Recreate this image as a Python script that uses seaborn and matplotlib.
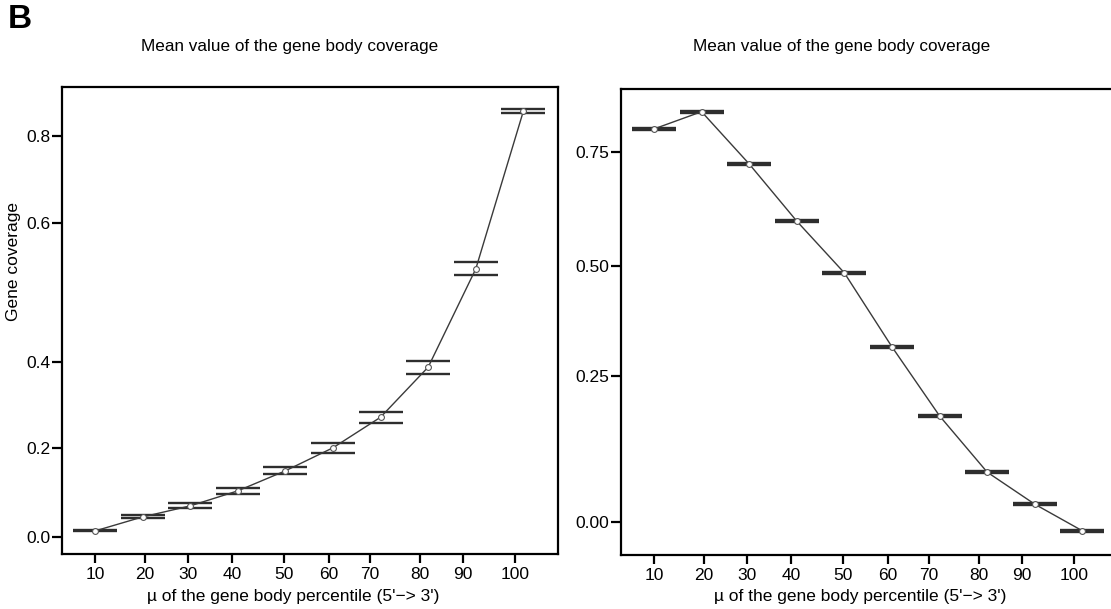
import numpy as np
import pandas as pd
import matplotlib
matplotlib.use("Agg")
import matplotlib.pyplot as plt
import seaborn as sns

# ---- data -------------------------------------------------------------
percentile = [10, 20, 30, 40, 50, 60, 70, 80, 90, 100]

left_mean = [0.012, 0.040, 0.062, 0.092, 0.132, 0.178, 0.239, 0.339, 0.535, 0.850]
left_err = [0.001, 0.003, 0.005, 0.006, 0.007, 0.010, 0.011, 0.013, 0.013, 0.004]

right_mean = [0.797, 0.832, 0.726, 0.610, 0.505, 0.355, 0.215, 0.101, 0.036, -0.018]
right_err = [0.002, 0.002, 0.002, 0.002, 0.002, 0.002, 0.002, 0.002, 0.002, 0.002]

xtick_pos = [10, 20.5, 29.5, 38.8, 49.7, 59.2, 67.8, 78.3, 87.3, 98.2]
xtick_labels = ["10", "20", "30", "40", "50", "60", "70", "80", "90", "100"]

left_ytick_pos = [0.0, 0.178, 0.349, 0.626, 0.8]
left_ytick_labels = ["0.0", "0.2", "0.4", "0.6", "0.8"]

right_ytick_pos = [0.0, 0.296, 0.519, 0.75]
right_ytick_labels = ["0.00", "0.25", "0.50", "0.75"]

title_text = "Mean value of the gene body coverage"
xlabel_text = "\u00b5 of the gene body percentile (5'\u2212> 3')"
ylabel_text = "Gene coverage"

# ---- style ------------------------------------------------------------
sns.set_style("ticks")
plt.rcParams["font.family"] = ["Liberation Sans", "DejaVu Sans"]
plt.rcParams["text.color"] = "black"
plt.rcParams["axes.labelcolor"] = "black"
plt.rcParams["axes.linewidth"] = 1.6
plt.rcParams["xtick.major.width"] = 1.6
plt.rcParams["ytick.major.width"] = 1.6
plt.rcParams["xtick.major.size"] = 6.5
plt.rcParams["ytick.major.size"] = 7
plt.rcParams["xtick.color"] = "black"
plt.rcParams["ytick.color"] = "black"
plt.rcParams["axes.edgecolor"] = "black"

W, H = 1111, 609
fig = plt.figure(figsize=(W / 100, H / 100), dpi=100)


def px_axes(x0, y0, x1, y1):
    """Axes from pixel box (top-left origin)."""
    return fig.add_axes([x0 / W, 1 - y1 / H, (x1 - x0) / W, (y1 - y0) / H])


ax_l = px_axes(62, 87, 558, 554)
ax_r = px_axes(621, 89, 1117, 555)

line_color = "#3a3a3a"
cap_color = "#2e2e2e"
tick_fs = 12.5


def draw_panel(ax, mean, err, ylim, ytick_pos, ytick_labels):
    df = pd.DataFrame({"percentile": percentile, "mean": mean, "err": err})
    ax.errorbar(df["percentile"], df["mean"], yerr=df["err"], fmt="none",
                ecolor=cap_color, elinewidth=0, capsize=15.8, capthick=1.7,
                zorder=2)
    sns.lineplot(data=df, x="percentile", y="mean", ax=ax, color=line_color,
                 linewidth=1.0, marker="o", markersize=4.2,
                 markerfacecolor="white", markeredgecolor="#555555",
                 markeredgewidth=0.8, zorder=3)
    ax.set_xlim(3.07, 107.27)
    ax.set_ylim(*ylim)
    ax.set_xticks(xtick_pos)
    ax.set_xticklabels(xtick_labels, fontsize=tick_fs, color="black")
    ax.set_yticks(ytick_pos)
    ax.set_yticklabels(ytick_labels, fontsize=tick_fs, color="black")
    ax.tick_params(axis="x", pad=3)
    ax.tick_params(axis="y", pad=1.5)
    ax.set_xlabel("")
    ax.set_ylabel("")
    for s in ax.spines.values():
        s.set_visible(True)


draw_panel(ax_l, left_mean, left_err, (-0.034, 0.898),
           left_ytick_pos, left_ytick_labels)
draw_panel(ax_r, right_mean, right_err, (-0.067, 0.878),
           right_ytick_pos, right_ytick_labels)

# panel titles and axis labels
fig.text(290 / W, 1 - 47 / H, title_text, ha="center", va="center", fontsize=12.3)
fig.text(842 / W, 1 - 47 / H, title_text, ha="center", va="center", fontsize=12.3)
fig.text(293 / W, 1 - 597 / H, xlabel_text, ha="center", va="center", fontsize=12.5)
fig.text(860 / W, 1 - 597 / H, xlabel_text, ha="center", va="center", fontsize=12.5)
fig.text(14 / W, 1 - 262 / H, ylabel_text, ha="center", va="center",
         rotation=90, fontsize=12.5)
fig.text(8 / W, 1 - 19 / H, "B", ha="left", va="center", fontsize=24,
         fontweight="bold")

fig.savefig("out.png", dpi=100)
